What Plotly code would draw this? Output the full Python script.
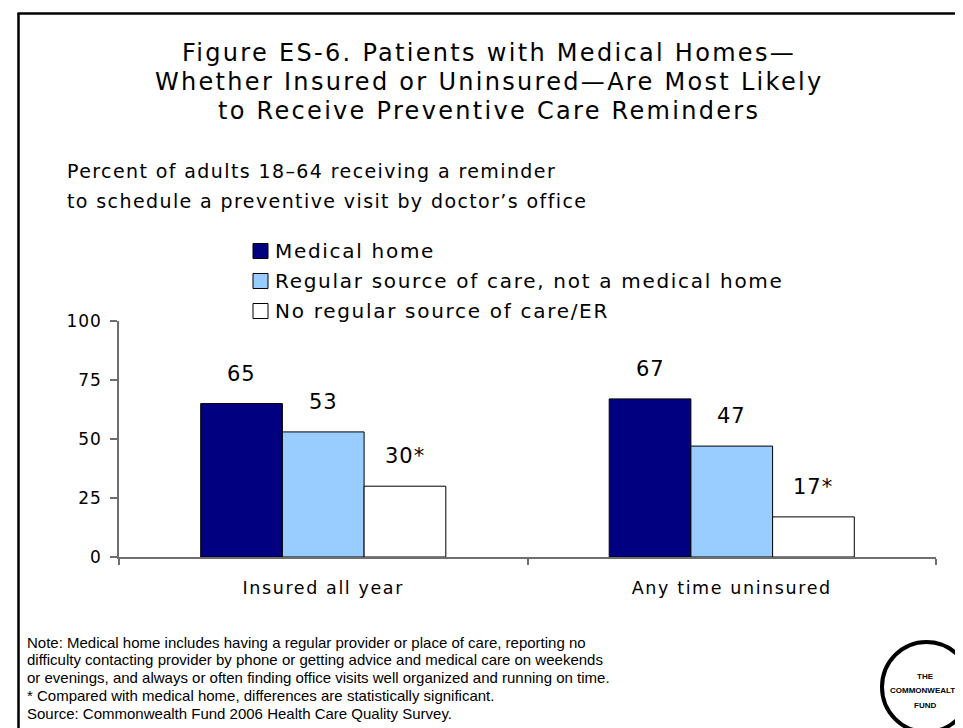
import plotly.graph_objects as go

# ---- data ----
categories = ["Insured all year", "Any time uninsured"]
series_names = ["Medical home", "Regular source of care, not a medical home", "No regular source of care/ER"]
medical_home = [65, 67]
regular_source = [53, 47]
no_regular = [30, 17]
significant = [[False, False], [False, False], [True, True]]
series_colors = ["#000080", "#99CCFF", "#FFFFFF"]
y_ticks = [0, 25, 50, 75, 100]

title_lines = ["Figure ES-6. Patients with Medical Homes\u2014",
               "Whether Insured or Uninsured\u2014Are Most Likely",
               "to Receive Preventive Care Reminders"]
subtitle_lines = ["Percent of adults 18\u201364 receiving a reminder",
                  "to schedule a preventive visit by doctor\u2019s office"]
note_lines = ["Note: Medical home includes having a regular provider or place of care, reporting no",
              "difficulty contacting provider by phone or getting advice and medical care on weekends",
              "or evenings, and always or often finding office visits well organized and running on time.",
              "* Compared with medical home, differences are statistically significant.",
              "Source: Commonwealth Fund 2006 Health Care Quality Survey."]
logo_lines = ["THE", "COMMONWEALTH", "FUND"]

values = [medical_home, regular_source, no_regular]

# ---- layout geometry (pixels) ----
W, H = 963, 728
L, R, T, B = 111, 35, 313, 179
PW = W - L - R
PH = H - T - B


def px(x):
    return (x - L) / PW


def py(y):
    return (H - B - y) / PH


VF = "Verdana, 'DejaVu Sans', sans-serif"
AF = "Arial, 'Liberation Sans', sans-serif"


def sp(text, ls):
    return '<span style="letter-spacing:%spx">%s</span>' % (ls, text)


fig = go.Figure()
for name, vals, col in zip(series_names, values, series_colors):
    fig.add_trace(go.Bar(x=categories, y=vals, name=name,
                         marker=dict(color=col, line=dict(color="#000000", width=1)),
                         showlegend=False, hoverinfo="x+y"))

annotations = []
shapes = []

# data labels
n = len(values)
bargap = 0.4
bw = (1 - bargap) / n
for i, vals in enumerate(values):
    off = (i - (n - 1) / 2) * bw
    for j, v in enumerate(vals):
        label = str(v) + ("*" if significant[i][j] else "")
        annotations.append(dict(x=j + off, y=v, xref="x", yref="y", text=sp(label, 1),
                                showarrow=False, yshift=30, yanchor="middle", xanchor="center",
                                font=dict(family=VF, size=21, color="#000000")))

# title
for k, line in enumerate(title_lines):
    annotations.append(dict(x=px(481), y=py(45 + 29 * k), xref="paper", yref="paper",
                            text=sp(line, 2.3), showarrow=False, xanchor="center", yanchor="middle",
                            font=dict(family=VF, size=24, color="#000000")))
# subtitle
for k, line in enumerate(subtitle_lines):
    annotations.append(dict(x=px(57), y=py(163 + 30 * k), xref="paper", yref="paper",
                            text=sp(line, 1.4), showarrow=False, xanchor="left", yanchor="middle",
                            font=dict(family=VF, size=19, color="#000000")))
# legend
for k, (name, col) in enumerate(zip(series_names, series_colors)):
    cy = 243 + 30 * k
    shapes.append(dict(type="rect", xref="paper", yref="paper",
                       x0=px(245), x1=px(260), y0=py(cy - 7.5), y1=py(cy + 7.5),
                       fillcolor=col, line=dict(color="#000000", width=1)))
    annotations.append(dict(x=px(265), y=py(cy), xref="paper", yref="paper",
                            text=sp(name, 1.7), showarrow=False, xanchor="left", yanchor="middle",
                            font=dict(family=VF, size=20, color="#000000")))
# notes
for k, line in enumerate(note_lines):
    annotations.append(dict(x=px(17), y=py(634 + 17.8 * k), xref="paper", yref="paper",
                            text=line, showarrow=False, xanchor="left", yanchor="middle",
                            font=dict(family=AF, size=15, color="#000000")))
# logo
shapes.append(dict(type="circle", xref="paper", yref="paper",
                   x0=px(874), x1=px(963), y0=py(634), y1=py(724),
                   line=dict(color="#000000", width=4), fillcolor="rgba(0,0,0,0)"))
for k, line in enumerate(logo_lines):
    annotations.append(dict(x=px(917), y=py(668 + 14.5 * k), xref="paper", yref="paper",
                            text="<b>%s</b>" % line, showarrow=False, xanchor="center", yanchor="middle",
                            font=dict(family=AF, size=8, color="#000000")))
# border
shapes.append(dict(type="line", xref="paper", yref="paper", x0=px(10.5), x1=px(10.5),
                   y0=py(5), y1=py(740), line=dict(color="#000000", width=2.5)))
shapes.append(dict(type="line", xref="paper", yref="paper", x0=px(9.5), x1=px(970),
                   y0=py(5.5), y1=py(5.5), line=dict(color="#000000", width=2.5)))

fig.update_layout(
    width=W, height=H,
    margin=dict(l=L, r=R, t=T, b=B, pad=0),
    paper_bgcolor="#FFFFFF", plot_bgcolor="#FFFFFF",
    barmode="group", bargap=bargap, bargroupgap=0,
    annotations=annotations, shapes=shapes,
    showlegend=False,
    xaxis=dict(showline=True, linecolor="#6e6e6e", linewidth=1.5, ticks="outside",
               tickson="boundaries", ticklen=6, tickcolor="#6e6e6e", tickwidth=1.5,
               showgrid=False, zeroline=False, ticklabelstandoff=14,
               tickfont=dict(family=VF, size=17.5, color="#000000"),
               ticktext=[sp(c, 1.6) for c in categories], tickvals=categories),
    yaxis=dict(range=[0, 100], tickvals=y_ticks, ticktext=[sp(str(t), 1) for t in y_ticks],
               showline=True, linecolor="#6e6e6e", linewidth=1.5,
               ticks="outside", ticklen=7, tickcolor="#6e6e6e", tickwidth=1.5,
               showgrid=False, zeroline=False, ticklabelstandoff=5,
               tickfont=dict(family=VF, size=17, color="#000000")),
)

fig.write_html("out.html")
